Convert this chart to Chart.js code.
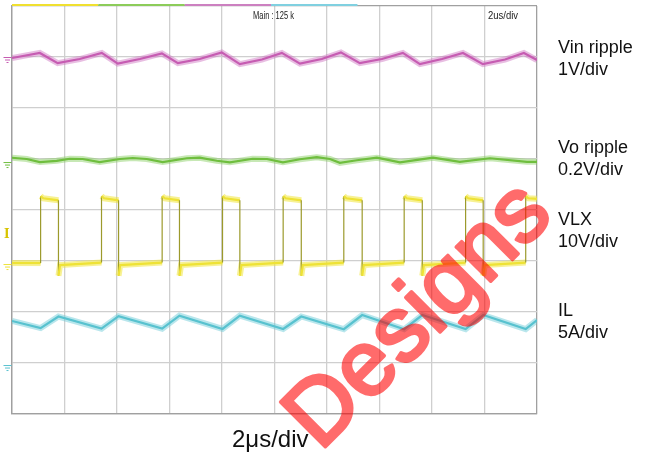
<!DOCTYPE html>
<html>
<head>
<meta charset="utf-8">
<script src="https://cdn.jsdelivr.net/npm/chart.js@4.4.1/dist/chart.umd.min.js"></script>
<style>
html, body { margin: 0; padding: 0; background: #fff; }
#wrap { position: relative; width: 651px; height: 456px; }
</style>
</head>
<body>
<div id="wrap"><canvas id="scopeChart"></canvas></div>
<script>
// time axis in microseconds (2us/div, 10 divisions)
const vinTime = [0, 1.06, 1.74, 2.58, 3.42, 4.03, 4.87, 5.71, 6.32, 7.15, 7.99, 8.68, 9.52, 10.28, 10.97, 11.80, 12.53, 13.25, 14.09, 14.89, 15.54, 16.38, 17.18, 17.94, 18.78, 19.50, 20];
const vinRipple = [-0.02, 0.08, -0.12, -0.04, 0.08, -0.13, -0.04, 0.07, -0.12, -0.04, 0.09, -0.14, -0.05, 0.08, -0.13, -0.04, 0.09, -0.12, -0.04, 0.08, -0.14, -0.04, 0.08, -0.14, -0.05, 0.08, -0.06];

const voTime = [0, 0.56, 1.06, 1.70, 2.20, 2.69, 3.34, 4.11, 4.60, 5.13, 5.74, 6.66, 7.15, 7.80, 8.30, 9.17, 9.71, 10.32, 10.97, 11.61, 12.11, 12.49, 13.14, 13.90, 14.78, 16.04, 17.06, 18.21, 19.62, 20];
const voRipple = [0.017, 0.012, 0.000, 0.005, 0.013, 0.012, 0.000, 0.012, 0.016, 0.012, 0.000, 0.015, 0.017, 0.005, -0.001, 0.013, 0.012, -0.001, 0.011, 0.019, 0.012, -0.003, 0.007, 0.017, -0.001, 0.017, 0.001, 0.015, 0.001, 0.001];

const vlxTime = [0,
  1.09, 1.09, 1.19, 1.77, 1.77, 1.83,
  3.41, 3.41, 3.51, 4.06, 4.06, 4.12,
  5.72, 5.72, 5.82, 6.38, 6.38, 6.44,
  8.02, 8.02, 8.12, 8.68, 8.68, 8.74,
  10.33, 10.33, 10.43, 11.02, 11.02, 11.08,
  12.64, 12.64, 12.74, 13.34, 13.34, 13.40,
  14.94, 14.94, 15.04, 15.63, 15.63, 15.69,
  17.28, 17.28, 17.38, 17.95, 17.95, 18.01,
  19.57, 19.57, 19.67, 20];
const vlxVolts = [0.2,
  0.2, 13.3, 12.9, 12.5, -2.3, -0.2,
  0.3, 13.3, 12.9, 12.5, -2.3, -0.2,
  0.3, 13.3, 12.9, 12.5, -2.3, -0.2,
  0.3, 13.3, 12.9, 12.5, -2.3, -0.2,
  0.3, 13.3, 12.9, 12.5, -2.3, -0.2,
  0.3, 13.3, 12.9, 12.5, -2.3, -0.2,
  0.3, 13.3, 12.9, 12.5, -2.3, -0.2,
  0.3, 13.3, 12.9, 12.5, -2.3, -0.2,
  0.3, 13.3, 12.9, 12.8];

const ilTime = [0, 1.09, 1.77, 3.41, 4.06, 5.72, 6.38, 8.02, 8.68, 10.33, 11.02, 12.64, 13.34, 14.94, 15.63, 17.28, 17.95, 19.57, 20];
const ilAmps = [4.32, 3.62, 4.76, 3.57, 4.79, 3.57, 4.84, 3.54, 4.84, 3.54, 4.76, 3.51, 4.90, 3.51, 4.90, 3.53, 4.90, 3.53, 4.41];

const xDivTicks = [0, 2, 4, 6, 8, 10, 12, 14, 16, 18, 20];

// scope channel settings: units per division and ground position (in divisions from bottom)
const channels = [
  { name: 'Vin ripple', perDiv: '1V/div', unitsPerDiv: 1, ground: 7.0, time: vinTime, values: vinRipple,
    color: '#c65cb2', haze: 'rgba(205, 110, 190, 0.45)', labelY: 53 },
  { name: 'Vo ripple', perDiv: '0.2V/div', unitsPerDiv: 0.2, ground: 4.94, time: voTime, values: voRipple,
    color: '#6fbe3e', haze: 'rgba(130, 205, 90, 0.45)', labelY: 153 },
  { name: 'VLX', perDiv: '10V/div', unitsPerDiv: 10, ground: 2.94, time: vlxTime, values: vlxVolts,
    color: '#eee236', haze: 'rgba(240, 230, 60, 0.55)', labelY: 225 },
  { name: 'IL', perDiv: '5A/div', unitsPerDiv: 5, ground: 0.96, time: ilTime, values: ilAmps,
    color: '#58c2cf', haze: 'rgba(100, 200, 212, 0.45)', labelY: 316 }
];

function toDivPoints(ch) {
  return ch.time.map((t, i) => ({ x: t, y: ch.ground + ch.values[i] / ch.unitsPerDiv }));
}

const isEdge = c => c.p0.parsed.x === c.p1.parsed.x;

const datasets = [];
channels.forEach(ch => {
  const pts = toDivPoints(ch);
  datasets.push({
    data: pts, borderColor: ch.haze, borderWidth: 6, order: 2,
    pointRadius: 0, tension: 0,
    segment: { borderColor: c => isEdge(c) ? 'rgba(0,0,0,0)' : undefined }
  });
  datasets.push({
    data: pts, borderColor: ch.color, borderWidth: 2.2, order: 1,
    pointRadius: 0, tension: 0,
    segment: {
      borderColor: c => isEdge(c) ? '#9c9a2c' : undefined,
      borderWidth: c => isEdge(c) ? 1.2 : undefined
    }
  });
});

const scopeDecor = {
  id: 'scopeDecor',
  afterDraw(chart) {
    const { ctx, chartArea: a, scales: { x, y } } = chart;
    ctx.save();

    // channel strip along the top border
    const stripColors = ['#f0e030', '#8ccc5a', '#cc80c0', '#80d0e0'];
    stripColors.forEach((c, i) => {
      ctx.fillStyle = c;
      const x0 = x.getPixelForValue(i * 3.29), x1 = x.getPixelForValue((i + 1) * 3.29);
      ctx.fillRect(x0, a.top - 2, x1 - x0, 2);
    });

    // ground markers
    channels.forEach(ch => {
      const gy = y.getPixelForValue(ch.ground);
      ctx.strokeStyle = ch.color;
      ctx.lineWidth = 1;
      [[3.5, 11.5, 0], [5, 10, 2.5], [6.5, 8.5, 5]].forEach(([l, r, dy]) => {
        ctx.beginPath();
        ctx.moveTo(l, gy + dy + 0.5);
        ctx.lineTo(r, gy + dy + 0.5);
        ctx.stroke();
      });
    });

    // trigger level marker
    ctx.fillStyle = '#d8c400';
    ctx.font = 'bold 12px "DejaVu Serif", serif';
    ctx.textBaseline = 'alphabetic';
    ctx.fillText('I', 4, 238);

    // scope readouts
    ctx.fillStyle = '#222';
    ctx.font = '10px "Liberation Sans", Arial, sans-serif';
    ctx.fillText('Main : 125 k', 253, 19, 41);
    ctx.fillText('2us/div', 488, 19, 30);

    // channel labels
    ctx.fillStyle = '#111';
    ctx.font = '18px "Liberation Sans", Arial, sans-serif';
    channels.forEach(ch => {
      ctx.fillText(ch.name, a.right + 21, ch.labelY);
      ctx.fillText(ch.perDiv, a.right + 21, ch.labelY + 21.5);
    });

    ctx.font = '24px "Liberation Sans", Arial, sans-serif';
    ctx.fillText('2\u03bcs/div', 232, 447);
    ctx.restore();

    // watermark: draw opaque on a scratch canvas, then blend once
    const w = chart.width, h = chart.height, dpr = chart.currentDevicePixelRatio;
    const off = document.createElement('canvas');
    off.width = w * dpr; off.height = h * dpr;
    const oc = off.getContext('2d');
    oc.scale(dpr, dpr);
    oc.translate(320, 452);
    oc.rotate(-Math.PI / 4);
    oc.fillStyle = '#ff0000';
    oc.strokeStyle = '#ff0000';
    oc.lineWidth = 3.5;
    oc.lineJoin = 'round';
    oc.font = '92px "Liberation Sans", Arial, sans-serif';
    oc.fillText('Designs', 0, 0);
    oc.strokeText('Designs', 0, 0);

    ctx.save();
    ctx.setTransform(1, 0, 0, 1, 0, 0);
    ctx.globalAlpha = 0.58;
    ctx.drawImage(off, 0, 0);
    ctx.restore();
  }
};

const edgeColor = c => (c.tick.value === c.scale.min || c.tick.value === c.scale.max) ? '#a0a0a0' : '#cfcfcf';

new Chart(document.getElementById('scopeChart'), {
  type: 'line',
  data: { datasets },
  options: {
    responsive: true,
    maintainAspectRatio: false,
    animation: false,
    events: [],
    layout: { padding: { left: 12, top: 6, right: 114, bottom: 42 } },
    plugins: { legend: { display: false }, tooltip: { enabled: false } },
    scales: {
      x: {
        type: 'linear', min: 0, max: 20,
        afterBuildTicks: s => { s.ticks = xDivTicks.map(v => ({ value: v })); },
        ticks: { display: false },
        grid: { color: edgeColor, lineWidth: 1.3, drawTicks: false },
        border: { display: true, color: '#a0a0a0', width: 1.3 }
      },
      y: {
        type: 'linear', min: 0, max: 8,
        ticks: { display: false, stepSize: 1 },
        grid: { color: edgeColor, lineWidth: 1.3, drawTicks: false },
        border: { display: true, color: '#a0a0a0', width: 1.3 }
      }
    }
  },
  plugins: [scopeDecor]
});
</script>
</body>
</html>
